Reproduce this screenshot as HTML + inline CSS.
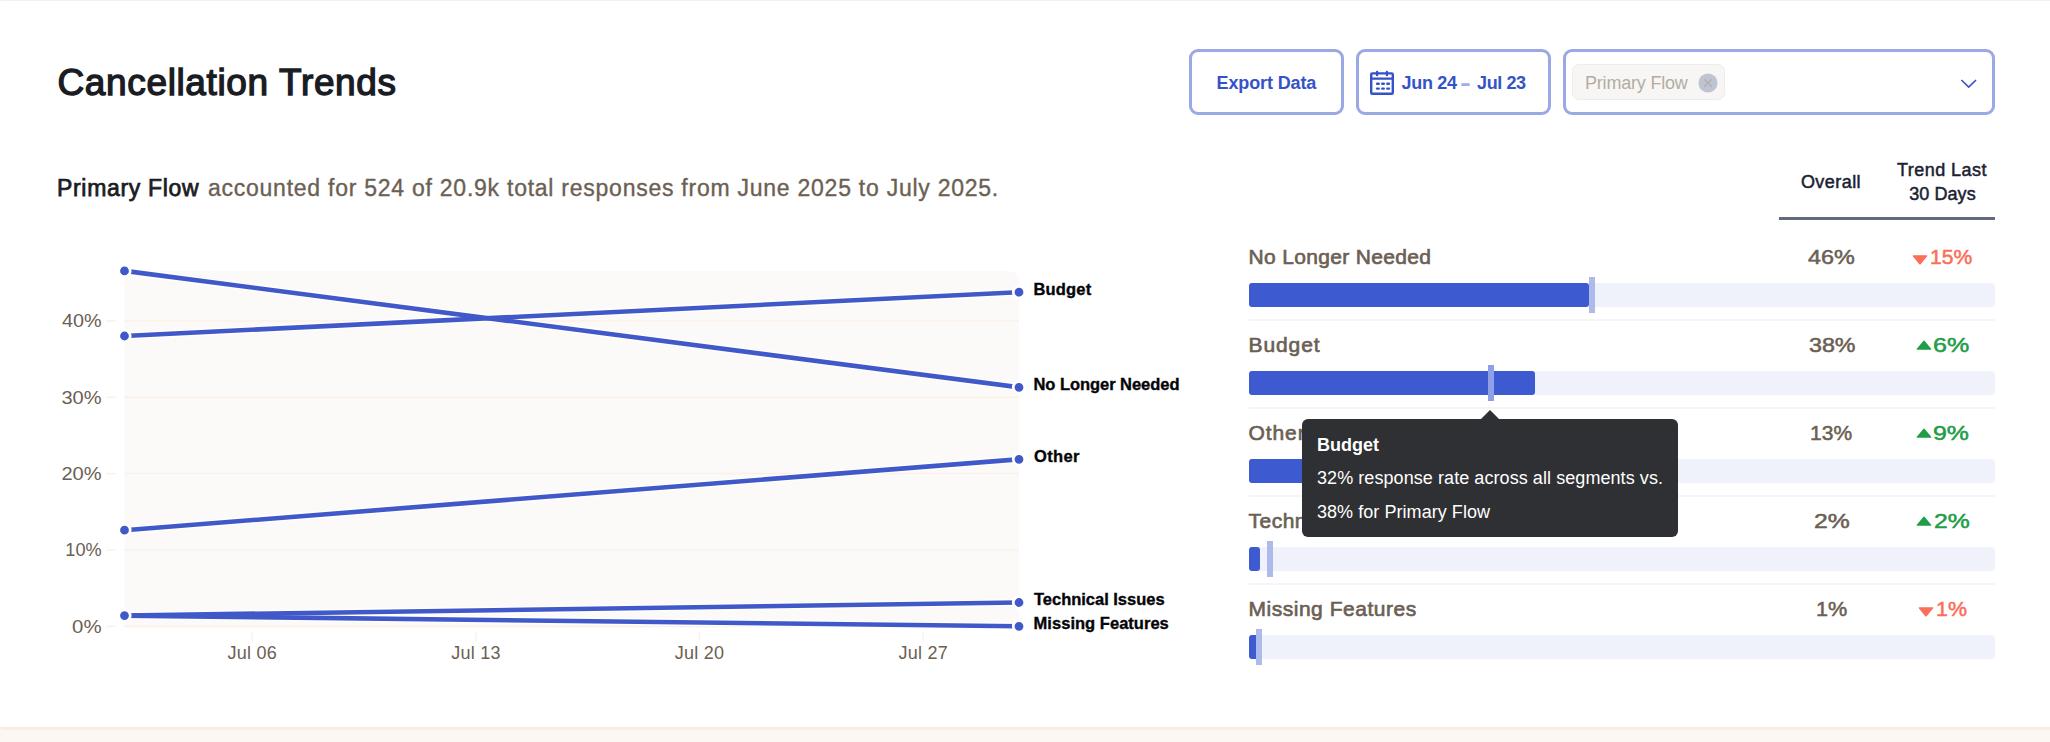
<!DOCTYPE html>
<html lang="en">
<head>
<meta charset="utf-8">
<title>Cancellation Trends</title>
<style>
  html, body { margin: 0; padding: 0; }
  body {
    width: 2050px; height: 742px; overflow: hidden; position: relative;
    background: #fcf7f3;
    font-family: "Liberation Sans", sans-serif;
    -webkit-font-smoothing: antialiased;
  }
  .card {
    position: absolute; left: 0; top: -1px; width: 2050px; height: 731px;
    background: #ffffff; box-sizing: border-box;
    border-top: 2px solid #f8efe7; border-bottom: 3px solid #f7ede4;
    border-radius: 3px 0 0 3px;
  }
  .abs { position: absolute; white-space: nowrap; line-height: 1; }
  .title { left: 57.5px; top: 64px; font-size: 37px; font-weight: 400; color: #1a1c24; letter-spacing: 0.64px; -webkit-text-stroke: 1.35px #1a1c24; }
  .sub { left: 57px; top: 177px; font-size: 23px; color: #6b6054; letter-spacing: 0.75px; -webkit-text-stroke: 0.35px #6b6054; }
  .sub b { color: #1a1c24; font-weight: 400; letter-spacing: 0.68px; margin-right: 1.5px; -webkit-text-stroke: 0.75px #1a1c24; }

  .btn {
    position: absolute; top: 49px; height: 66px; box-sizing: border-box;
    border: 3px solid #9aa8e6; border-radius: 9px; background: #fff;
    color: #3553c8; font-size: 18px; font-weight: 700;
  }
  .chip {
    position: absolute; left: 6px; top: 12px; width: 153px; height: 36px; box-sizing: border-box;
    background: #f7f6f4; border: 1px solid #efede9; border-radius: 7px;
  }
  .th { color: #1a2233; font-size: 18px; font-weight: 400; text-align: center; letter-spacing: 0.45px; -webkit-text-stroke: 0.5px #1a2233; }

  .row-label { left: 1248.5px; font-size: 21px; color: #6b6054; font-weight: 400; -webkit-text-stroke: 0.65px #6b6054; letter-spacing: 0.5px; }
  .num { font-size: 20px; color: #6b6054; transform-origin: 0 0; -webkit-text-stroke: 0.5px; }
  .up { color: #1f9d48; } .down { color: #fa6e5a; }
  .track { position: absolute; left: 1249px; width: 746px; height: 24px; background: #eff2fb; border-radius: 4px; }
  .fill { position: absolute; left: 0; top: 0; height: 24px; background: #3d5ad0; border-radius: 3px; }
  .mark { position: absolute; top: -6px; width: 6px; height: 36px; background: #aebaeb; }
  .mark.over { background: #8fa0e6; }
  .sep { position: absolute; left: 1249px; width: 746px; height: 2px; background: #f5f5f7; }

  .tip {
    position: absolute; left: 1302px; top: 419px; width: 376px; height: 118px;
    background: #2f3033; border-radius: 6px; color: #fff; font-size: 18px;
  }
  .tip:before {
    content: ""; position: absolute; left: 179px; top: -9px;
    border-left: 9px solid transparent; border-right: 9px solid transparent; border-bottom: 9px solid #2f3033;
  }
</style>
</head>
<body>
<div class="card"></div>

<div class="abs title" id="title">Cancellation Trends</div>
<div class="abs sub" id="sub"><b id="subb">Primary Flow</b> <span id="subr">accounted for 524 of 20.9k total responses from June 2025 to July 2025.</span></div>

<!-- buttons -->
<div class="btn" style="left:1189px;width:155px;">
  <span class="abs" id="export" style="left:24.5px;top:22px;letter-spacing:-0.12px;">Export Data</span>
</div>
<div class="btn" style="left:1356px;width:195px;">
  <svg class="abs" style="left:10px;top:17px;" width="28" height="30" viewBox="0 0 28 30">
    <g fill="none" stroke="#3553c8" stroke-width="2.4" stroke-linejoin="round" stroke-linecap="round">
      <rect x="2.2" y="4.4" width="21.6" height="20.4" rx="1"/>
      <line x1="2.2" y1="9.6" x2="23.8" y2="9.6"/>
      <line x1="8.1" y1="2.9" x2="8.1" y2="6"/>
      <line x1="17.9" y1="2.9" x2="17.9" y2="6"/>
    </g>
    <g fill="#3553c8">
      <rect x="6.9" y="13.5" width="4" height="2.4" rx="1.2"/><rect x="12" y="13.5" width="4" height="2.4" rx="1.2"/><rect x="17.1" y="13.5" width="4" height="2.4" rx="1.2"/>
      <rect x="6.9" y="18.4" width="4" height="2.4" rx="1.2"/><rect x="12" y="18.4" width="4" height="2.4" rx="1.2"/><rect x="17.1" y="18.4" width="4" height="2.4" rx="1.2"/>
    </g>
  </svg>
  <span class="abs" id="d1" style="left:42.5px;top:22px;letter-spacing:-0.3px;">Jun 24</span>
  <span class="abs" id="dd" style="left:102.6px;top:24.5px;color:#a3b0e8;font-size:14px;-webkit-text-stroke:1.3px #a3b0e8;">–</span>
  <span class="abs" id="d2" style="left:118px;top:22px;letter-spacing:-0.38px;">Jul 23</span>
</div>
<div class="btn" style="left:1563px;width:432px;">
  <div class="chip">
    <span class="abs" id="chiptext" style="left:12px;top:8.5px;font-size:18px;font-weight:400;color:#b3aca4;letter-spacing:-0.2px;">Primary Flow</span>
    <svg class="abs" style="left:125px;top:7.5px;" width="20" height="20" viewBox="0 0 20 20">
      <circle cx="10" cy="10" r="9.6" fill="#bec4d2"/>
      <path d="M6.2 6.2 L13.8 13.8 M13.8 6.2 L6.2 13.8" stroke="#b4afa9" stroke-width="1.3" fill="none"/>
    </svg>
  </div>
  <svg class="abs" style="left:392.3px;top:24px;" width="22" height="14" viewBox="0 0 22 14">
    <path d="M3.4 4 L10.7 11 L18 4" fill="none" stroke="#3553c8" stroke-width="1.65"/>
  </svg>
</div>

<!-- table header -->
<div class="abs th" id="th1" style="left:1771px;width:120px;top:173px;">Overall</div>
<div class="abs th" id="th2" style="left:1882px;width:120px;top:161px;">Trend Last</div>
<div class="abs th" id="th3" style="left:1882.5px;width:120px;top:184.5px;letter-spacing:0.05px;">30 Days</div>
<div style="position:absolute;left:1779px;top:217px;width:216px;height:3px;background:#626b7c;"></div>

<!-- rows -->
<div class="abs row-label" id="r1" style="top:246px;letter-spacing:0.33px;">No Longer Needed</div>
<div class="abs num" id="p1" style="left:1807.9px;top:247.1px;transform:scaleX(1.170);">46%</div>
<div class="abs num down" id="t1" style="left:1929.6px;top:247.1px;transform:scaleX(1.056);">15%</div>
<svg class="abs" style="left:1911.6px;top:254.6px;" width="16" height="10" viewBox="0 0 16 10"><path d="M1.5 0.2 H14.5 Q16 0.2 15 1.5 L8.7 9.2 Q8 10 7.3 9.2 L1 1.5 Q0 0.2 1.5 0.2Z" fill="#fa6e5a"/></svg>
<div class="track" style="top:283px;"><div class="fill" style="width:340px;"></div><div class="mark" style="left:340px;"></div></div>
<div class="sep" style="top:319px;"></div>

<div class="abs row-label" id="r2" style="top:334px;letter-spacing:0.9px;">Budget</div>
<div class="abs num" id="p2" style="left:1808.5px;top:335.1px;transform:scaleX(1.163);">38%</div>
<div class="abs num up" id="t2" style="left:1933.2px;top:335.1px;transform:scaleX(1.252);">6%</div>
<svg class="abs" style="left:1915.8px;top:339.6px;" width="16" height="10" viewBox="0 0 16 10"><path d="M1.5 9.7 H14.5 Q16 9.7 15 8.4 L8.7 1 Q8 0.2 7.3 1 L1 8.4 Q0 9.7 1.5 9.7Z" fill="#1f9d48"/></svg>
<div class="track" style="top:371px;"><div class="fill" style="width:286px;"></div><div class="mark over" style="left:239px;"></div></div>
<div class="sep" style="top:407px;"></div>

<div class="abs row-label" id="r3" style="top:422px;letter-spacing:0.9px;">Other</div>
<div class="abs num" id="p3" style="left:1809.8px;top:423.1px;transform:scaleX(1.051);">13%</div>
<div class="abs num up" id="t3" style="left:1933.4px;top:423.1px;transform:scaleX(1.244);">9%</div>
<svg class="abs" style="left:1915.7px;top:427.6px;" width="16" height="10" viewBox="0 0 16 10"><path d="M1.5 9.7 H14.5 Q16 9.7 15 8.4 L8.7 1 Q8 0.2 7.3 1 L1 8.4 Q0 9.7 1.5 9.7Z" fill="#1f9d48"/></svg>
<div class="track" style="top:459px;"><div class="fill" style="width:97px;"></div></div>
<div class="sep" style="top:495px;"></div>

<div class="abs row-label" id="r4" style="top:510px;letter-spacing:0.5px;">Technical Issues</div>
<div class="abs num" id="p4" style="left:1813.6px;top:511.1px;transform:scaleX(1.237);">2%</div>
<div class="abs num up" id="t4" style="left:1933.6px;top:511.1px;transform:scaleX(1.237);">2%</div>
<svg class="abs" style="left:1915.7px;top:515.6px;" width="16" height="10" viewBox="0 0 16 10"><path d="M1.5 9.7 H14.5 Q16 9.7 15 8.4 L8.7 1 Q8 0.2 7.3 1 L1 8.4 Q0 9.7 1.5 9.7Z" fill="#1f9d48"/></svg>
<div class="track" style="top:547px;"><div class="fill" style="width:11px;"></div><div class="mark" style="left:18px;"></div></div>
<div class="sep" style="top:583px;"></div>

<div class="abs row-label" id="r5" style="top:598px;letter-spacing:0.52px;">Missing Features</div>
<div class="abs num" id="p5" style="left:1815.8px;top:599.1px;transform:scaleX(1.081);">1%</div>
<div class="abs num down" id="t5" style="left:1935.9px;top:599.1px;transform:scaleX(1.070);">1%</div>
<svg class="abs" style="left:1917.6px;top:606.6px;" width="16" height="10" viewBox="0 0 16 10"><path d="M1.5 0.2 H14.5 Q16 0.2 15 1.5 L8.7 9.2 Q8 10 7.3 9.2 L1 1.5 Q0 0.2 1.5 0.2Z" fill="#fa6e5a"/></svg>
<div class="track" style="top:635px;"><div class="fill" style="width:10px;"></div><div class="mark" style="left:7px;"></div></div>

<!-- tooltip -->
<div class="tip">
  <span class="abs" id="tp1" style="left:15px;top:17px;font-weight:700;">Budget</span>
  <span class="abs" id="tp2" style="left:15px;top:50px;letter-spacing:0.07px;">32% response rate across all segments vs.</span>
  <span class="abs" id="tp3" style="left:15px;top:84px;letter-spacing:0.05px;">38% for Primary Flow</span>
</div>

<!-- chart -->
<svg class="abs" style="left:0;top:240px;" width="1240" height="460" viewBox="0 240 1240 460" font-family="'Liberation Sans', sans-serif">
  <path d="M124.5 271 H1007.0 Q1019.0 271 1019.0 283 V627.2 H124.5 Z" fill="#fcfaf8"/>
  <g stroke="#fbf0e8" stroke-width="1.5">
    <line x1="124.5" y1="320.9" x2="1019.0" y2="320.9"/><line x1="106.5" y1="320.9" x2="115.7" y2="320.9"/>
    <line x1="124.5" y1="397.3" x2="1019.0" y2="397.3"/><line x1="106.5" y1="397.3" x2="115.7" y2="397.3"/>
    <line x1="124.5" y1="473.6" x2="1019.0" y2="473.6"/><line x1="106.5" y1="473.6" x2="115.7" y2="473.6"/>
    <line x1="124.5" y1="550.0" x2="1019.0" y2="550.0"/><line x1="106.5" y1="550.0" x2="115.7" y2="550.0"/>
    <line x1="124.5" y1="626.4" x2="1019.0" y2="626.4"/><line x1="106.5" y1="626.4" x2="115.7" y2="626.4"/>
    <line x1="252.2" y1="632.3" x2="252.2" y2="641.5" stroke-width="1.2"/>
    <line x1="475.9" y1="632.3" x2="475.9" y2="641.5" stroke-width="1.2"/>
    <line x1="699.5" y1="632.3" x2="699.5" y2="641.5" stroke-width="1.2"/>
    <line x1="923.2" y1="632.3" x2="923.2" y2="641.5" stroke-width="1.2"/>
  </g>
  <g fill="#6b6054" font-size="18" text-anchor="end">
    <text x="101.6" y="327.1" textLength="39.6" lengthAdjust="spacingAndGlyphs">40%</text>
    <text x="101.6" y="403.5" textLength="40.2" lengthAdjust="spacingAndGlyphs">30%</text>
    <text x="101.6" y="479.8" textLength="40.2" lengthAdjust="spacingAndGlyphs">20%</text>
    <text x="101.6" y="556.2" textLength="36.3" lengthAdjust="spacingAndGlyphs">10%</text>
    <text x="101.6" y="632.6" textLength="29.5" lengthAdjust="spacingAndGlyphs">0%</text>
  </g>
  <g fill="#6b6054" font-size="18" text-anchor="middle" letter-spacing="0.25">
    <text x="252.29999999999998" y="659">Jul 06</text>
    <text x="476.0" y="659">Jul 13</text>
    <text x="699.6" y="659">Jul 20</text>
    <text x="923.3000000000001" y="659">Jul 27</text>
  </g>
  <g stroke="#ffffff" stroke-width="7.2" fill="none">
    <line x1="124.5" y1="270.9" x2="1019.0" y2="387.3"/>
    <line x1="124.5" y1="336.0" x2="1019.0" y2="292.2"/>
    <line x1="124.5" y1="530.2" x2="1019.0" y2="459.3"/>
    <line x1="124.5" y1="615.6" x2="1019.0" y2="602.5"/>
    <line x1="124.5" y1="615.6" x2="1019.0" y2="626.3"/>
  </g>
  <g stroke="#4159c8" stroke-width="4.6" fill="none">
    <line x1="124.5" y1="270.9" x2="1019.0" y2="387.3"/>
    <line x1="124.5" y1="336.0" x2="1019.0" y2="292.2"/>
    <line x1="124.5" y1="530.2" x2="1019.0" y2="459.3"/>
    <line x1="124.5" y1="615.6" x2="1019.0" y2="602.5"/>
    <line x1="124.5" y1="615.6" x2="1019.0" y2="626.3"/>
  </g>
  <g fill="#4159c8" stroke="#ffffff" stroke-width="2.6" paint-order="stroke">
    <circle cx="124.5" cy="270.9" r="5.75" stroke-width="2.7" paint-order="normal"/>
    <circle cx="1019.0" cy="387.3" r="5.75" stroke-width="2.7" paint-order="normal"/>
    <circle cx="124.5" cy="336.0" r="5.75" stroke-width="2.7" paint-order="normal"/>
    <circle cx="1019.0" cy="292.2" r="5.75" stroke-width="2.7" paint-order="normal"/>
    <circle cx="124.5" cy="530.2" r="5.75" stroke-width="2.7" paint-order="normal"/>
    <circle cx="1019.0" cy="459.3" r="5.75" stroke-width="2.7" paint-order="normal"/>
    <circle cx="124.5" cy="615.6" r="5.75" stroke-width="2.7" paint-order="normal"/>
    <circle cx="1019.0" cy="602.5" r="5.75" stroke-width="2.7" paint-order="normal"/>
    <circle cx="1019.0" cy="626.3" r="5.75" stroke-width="2.7" paint-order="normal"/>
  </g>
  <g fill="#050507" font-size="16.5" font-weight="700" stroke="#050507" stroke-width="0.35">
    <text id="l1" x="1033.5" y="389.9" textLength="146.0" lengthAdjust="spacing">No Longer Needed</text>
    <text id="l2" x="1033.4" y="295.0" textLength="57.8" lengthAdjust="spacing">Budget</text>
    <text id="l3" x="1033.9" y="462.0" textLength="45.6" lengthAdjust="spacing">Other</text>
    <text id="l4" x="1034.0" y="605.0" textLength="130.6" lengthAdjust="spacing">Technical Issues</text>
    <text id="l5" x="1033.6" y="628.6" textLength="135.2" lengthAdjust="spacing">Missing Features</text>
  </g>
</svg>
</body>
</html>
